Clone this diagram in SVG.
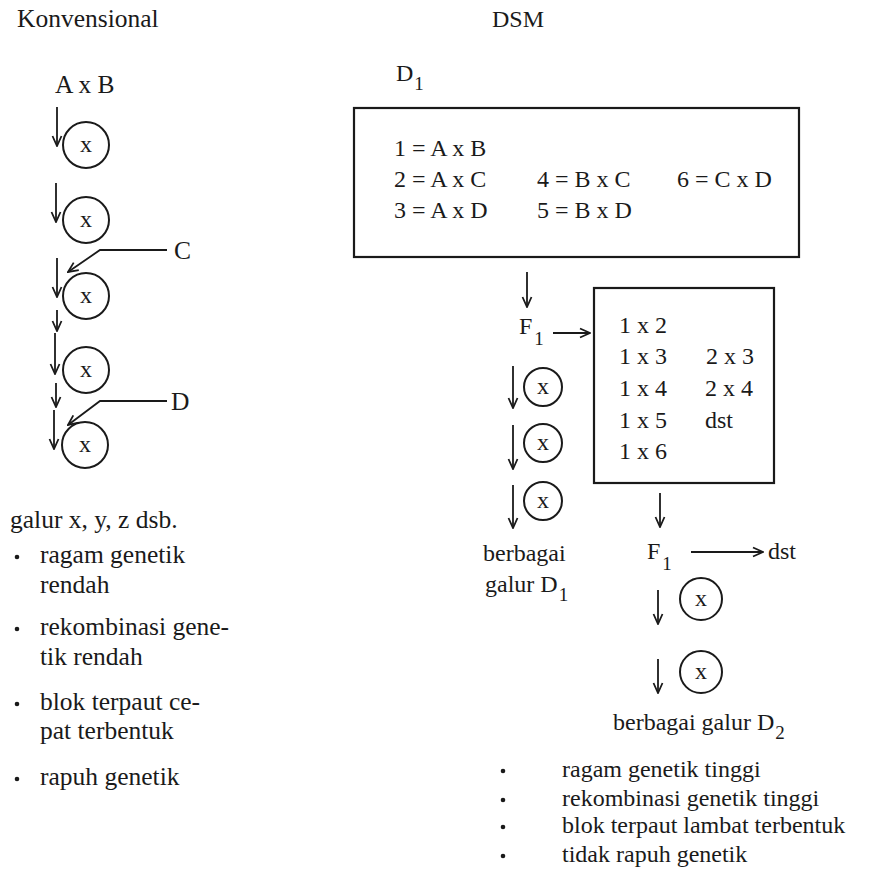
<svg xmlns="http://www.w3.org/2000/svg" width="871" height="871" viewBox="0 0 871 871">
<defs>
<style>
text{font-family:'Liberation Serif','DejaVu Serif','Times New Roman',serif;font-size:24px;fill:#1a1a1a}
.sub{font-size:19px}
.big{font-size:25.5px}
.c{fill:none;stroke:#1a1a1a;stroke-width:2}
.box{fill:none;stroke:#1a1a1a;stroke-width:2.2}
.a{fill:none;stroke:#1a1a1a;stroke-width:1.8;marker-end:url(#ah)}
.dot{fill:#1a1a1a}
</style>
<marker id="ah" viewBox="0 0 12 12" refX="11" refY="6" markerWidth="12" markerHeight="12" markerUnits="userSpaceOnUse" orient="auto">
<path d="M1,1.5 L11,6 L1,10.5" fill="none" stroke="#1a1a1a" stroke-width="1.8"/>
</marker>
</defs>
<rect width="871" height="871" fill="#fff"/>
<g font-family="Liberation Serif, DejaVu Serif, serif">

<g id="titles">
<text x="17" y="27" class="big">Konvensional</text>
<text x="492" y="27">DSM</text>
</g>

<g id="konvensional">
<g id="k-axb"><text x="55" y="93" class="big">A x B</text></g>
<g id="k-c1"><circle cx="86" cy="145" r="23" class="c"/><text x="86" y="152" text-anchor="middle">x</text></g>
<g id="k-c2"><circle cx="86" cy="220" r="23" class="c"/><text x="86" y="227" text-anchor="middle">x</text></g>
<g id="k-c3"><circle cx="86" cy="296" r="23" class="c"/><text x="86" y="303" text-anchor="middle">x</text></g>
<g id="k-c4"><circle cx="86" cy="370" r="23" class="c"/><text x="86" y="377" text-anchor="middle">x</text></g>
<g id="k-c5"><circle cx="85" cy="445" r="23" class="c"/><text x="85" y="452" text-anchor="middle">x</text></g>
<g id="k-C"><text x="174" y="259" class="big">C</text></g>
<g id="k-D"><text x="171" y="410" class="big">D</text></g>
<g id="k-galur"><text x="10" y="528" class="big">galur x, y, z dsb.</text></g>
<g id="k-list" class="big">
<circle cx="17" cy="557" r="2.3" class="dot"/>
<text x="40" y="563" class="big">ragam genetik</text>
<text x="40" y="593" class="big">rendah</text>
<circle cx="17" cy="629" r="2.3" class="dot"/>
<text x="40" y="635" class="big">rekombinasi gene-</text>
<text x="40" y="665" class="big">tik rendah</text>
<circle cx="17" cy="704" r="2.3" class="dot"/>
<text x="40" y="710" class="big">blok terpaut ce-</text>
<text x="40" y="739" class="big">pat terbentuk</text>
<circle cx="17" cy="779" r="2.3" class="dot"/>
<text x="40" y="785" class="big">rapuh genetik</text>
</g>
</g>

<g id="dsm">
<g id="d1-label"><text x="396" y="81">D<tspan class="sub" dx="1" dy="9">1</tspan></text></g>
<g id="box1">
<rect x="354" y="108" width="445" height="149" class="box"/>
<text x="394" y="156">1 = A x B</text>
<text x="394" y="187">2 = A x C</text>
<text x="537" y="187">4 = B x C</text>
<text x="677" y="187">6 = C x D</text>
<text x="394" y="218">3 = A x D</text>
<text x="537" y="218">5 = B x D</text>
</g>
<g id="f1a"><text x="519" y="334">F<tspan class="sub" dx="2" dy="11">1</tspan></text></g>
<g id="box2">
<rect x="594" y="288" width="180" height="195" class="box"/>
<text x="619" y="333">1 x 2</text>
<text x="619" y="364">1 x 3</text>
<text x="619" y="396">1 x 4</text>
<text x="619" y="428">1 x 5</text>
<text x="619" y="459">1 x 6</text>
<text x="706" y="364">2 x 3</text>
<text x="705" y="396">2 x 4</text>
<text x="705" y="428">dst</text>
</g>
<g id="d-c1"><circle cx="543" cy="387" r="19" class="c"/><text x="543" y="394" text-anchor="middle">x</text></g>
<g id="d-c2"><circle cx="543" cy="443" r="19" class="c"/><text x="543" y="450" text-anchor="middle">x</text></g>
<g id="d-c3"><circle cx="543" cy="501" r="19" class="c"/><text x="543" y="508" text-anchor="middle">x</text></g>
<g id="galur-d1"><text x="483" y="561">berbagai</text><text x="485" y="592">galur D<tspan class="sub" dx="1" dy="9">1</tspan></text></g>
<g id="f1b"><text x="647" y="559">F<tspan class="sub" dx="2" dy="11">1</tspan></text></g>
<g id="dst"><text x="768" y="559">dst</text></g>
<g id="d-c4"><circle cx="701" cy="599" r="21" class="c"/><text x="701" y="606" text-anchor="middle">x</text></g>
<g id="d-c5"><circle cx="701" cy="672" r="21" class="c"/><text x="701" y="679" text-anchor="middle">x</text></g>
<g id="galur-d2"><text x="613" y="730">berbagai galur D<tspan class="sub" dx="1" dy="9">2</tspan></text></g>
<g id="d-list">
<circle cx="503" cy="771" r="2.3" class="dot"/><text x="562" y="777">ragam genetik tinggi</text>
<circle cx="503" cy="800" r="2.3" class="dot"/><text x="562" y="806">rekombinasi genetik tinggi</text>
<circle cx="503" cy="827" r="2.3" class="dot"/><text x="562" y="833">blok terpaut lambat terbentuk</text>
<circle cx="503" cy="856" r="2.3" class="dot"/><text x="562" y="862">tidak rapuh genetik</text>
</g>
</g>

<g id="connectors">
<line x1="57" y1="107" x2="57" y2="146" class="a"/>
<line x1="56" y1="183" x2="56" y2="222" class="a"/>
<line x1="57" y1="258" x2="57" y2="297" class="a"/>
<line x1="57" y1="310" x2="57" y2="331" class="a"/>
<line x1="55" y1="333" x2="55" y2="374" class="a"/>
<line x1="56" y1="383" x2="56" y2="407" class="a"/>
<line x1="54" y1="410" x2="54" y2="449" class="a"/>
<polyline points="167,250 100,250 68,272" class="a"/>
<polyline points="167,401 100,401 68,425" class="a"/>
<line x1="527" y1="272" x2="527" y2="307" class="a"/>
<line x1="553" y1="333" x2="590" y2="333" class="a"/>
<line x1="513" y1="366" x2="513" y2="408" class="a"/>
<line x1="513" y1="425" x2="513" y2="469" class="a"/>
<line x1="513" y1="485" x2="513" y2="528" class="a"/>
<line x1="660" y1="493" x2="660" y2="527" class="a"/>
<line x1="691" y1="552" x2="763" y2="552" class="a"/>
<line x1="658" y1="590" x2="658" y2="624" class="a"/>
<line x1="658" y1="659" x2="658" y2="693" class="a"/>
</g>
</g>
</svg>
